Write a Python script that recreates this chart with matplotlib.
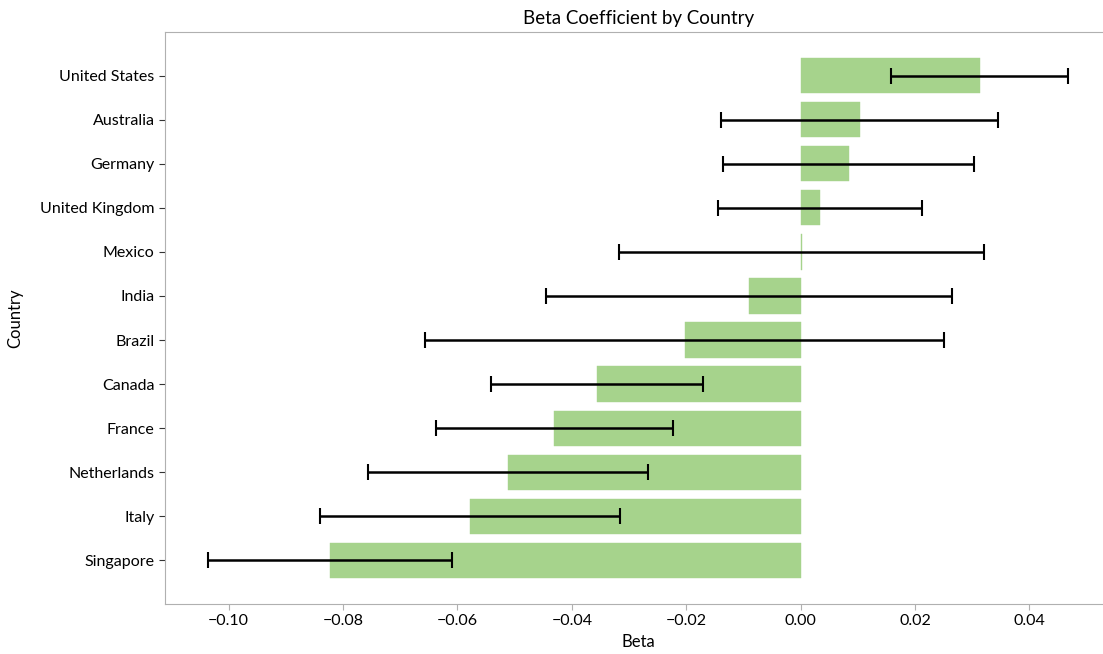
import matplotlib
import matplotlib.pyplot as plt
import numpy as np

matplotlib.use("Agg")

# countries from top to bottom
countries = ["United States", "Australia", "Germany", "United Kingdom", "Mexico",
             "India", "Brazil", "Canada", "France", "Netherlands", "Italy", "Singapore"]
beta = [0.0313, 0.0103, 0.0084, 0.0034, 0.0002,
        -0.0090, -0.0203, -0.0356, -0.0431, -0.0512, -0.0578, -0.0823]
err = [0.0155, 0.0242, 0.0219, 0.0178, 0.0319,
       0.0355, 0.0454, 0.0185, 0.0207, 0.0245, 0.0262, 0.0213]

plt.rcParams["font.family"] = ["Lato", "DejaVu Sans"]

fig = plt.figure(figsize=(11.03, 6.54), dpi=100)
ax = fig.add_axes([0.1496, 0.0765, 0.858, 0.8745])

y = np.arange(len(countries))
ax.barh(y, beta, height=0.8, color="#a6d38c", edgecolor="#a6d38c", linewidth=0.3)
ax.errorbar(beta, y, xerr=err, fmt="none", ecolor="black", elinewidth=1.8,
            capsize=6, capthick=1.5)

ax.set_yticks(y)
ax.set_yticklabels(countries, fontsize=11.5)
ax.invert_yaxis()
ax.set_xticks([-0.10, -0.08, -0.06, -0.04, -0.02, 0.00, 0.02, 0.04])
ax.set_xticklabels(["\u22120.10", "\u22120.08", "\u22120.06", "\u22120.04", "\u22120.02",
                    "0.00", "0.02", "0.04"], fontsize=11.5)

ax.set_xlabel("Beta", fontsize=12, labelpad=4)
ax.set_ylabel("Country", fontsize=12, labelpad=12)
ax.set_title("Beta Coefficient by Country", fontsize=13.5, pad=6)

for s in ["left", "bottom", "top"]:
    ax.spines[s].set_color("#b0b0b0")
ax.spines["right"].set_visible(False)
ax.tick_params(axis="y", color="#333333", length=4)
ax.tick_params(axis="x", color="#b0b0b0", length=4)

fig.savefig("out.png", dpi=100)
